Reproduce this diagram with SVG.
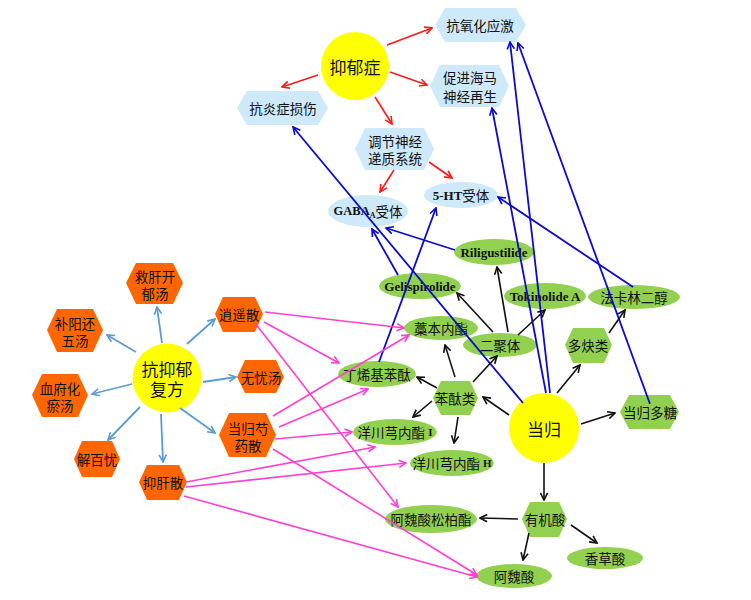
<svg xmlns="http://www.w3.org/2000/svg" width="751" height="600" viewBox="0 0 751 600">
<defs>
<style>
.cn{font-family:"Noto Sans CJK SC","Noto Sans",sans-serif;font-size:13.5px;fill:#111;text-anchor:middle;dominant-baseline:central}
.big{font-size:17px}
.en{font-family:"Liberation Serif","Times New Roman",serif;font-weight:bold;font-size:13px;fill:#111;text-anchor:middle;dominant-baseline:central}
.yc{fill:#FFFF00}
.lb{fill:#CDE9FA}
.gr{fill:#92D050}
.or{fill:#FF6600}
.red{stroke:#FF1A1A;stroke-width:1.6;fill:none;marker-end:url(#mRed)}
.blu{stroke:#0A0ACC;stroke-width:1.8;fill:none;marker-end:url(#mBlu)}
.pnk{stroke:#FF40D0;stroke-width:1.6;fill:none;marker-end:url(#mPnk)}
.stb{stroke:#5B9BD5;stroke-width:1.8;fill:none;marker-end:url(#mStb)}
.blk{stroke:#111;stroke-width:1.6;fill:none;marker-end:url(#mBlk)}
</style>
<marker id="mRed" viewBox="0 0 10 10" refX="9" refY="5" markerWidth="9" markerHeight="9" markerUnits="userSpaceOnUse" orient="auto"><path d="M1,1 L9,5 L1,9" fill="none" stroke="#FF1A1A" stroke-width="1.8"/></marker>
<marker id="mBlu" viewBox="0 0 10 10" refX="9" refY="5" markerWidth="9" markerHeight="9" markerUnits="userSpaceOnUse" orient="auto"><path d="M1,1 L9,5 L1,9" fill="none" stroke="#0A0ACC" stroke-width="1.8"/></marker>
<marker id="mPnk" viewBox="0 0 10 10" refX="9" refY="5" markerWidth="9" markerHeight="9" markerUnits="userSpaceOnUse" orient="auto"><path d="M1,1 L9,5 L1,9" fill="none" stroke="#FF40D0" stroke-width="1.8"/></marker>
<marker id="mStb" viewBox="0 0 10 10" refX="9" refY="5" markerWidth="9" markerHeight="9" markerUnits="userSpaceOnUse" orient="auto"><path d="M1,1 L9,5 L1,9" fill="none" stroke="#5B9BD5" stroke-width="1.8"/></marker>
<marker id="mBlk" viewBox="0 0 10 10" refX="9" refY="5" markerWidth="9" markerHeight="9" markerUnits="userSpaceOnUse" orient="auto"><path d="M1,1 L9,5 L1,9" fill="none" stroke="#111" stroke-width="1.8"/></marker>
</defs>
<rect width="751" height="600" fill="#fff"/>

<!-- top: depression -->
<g id="n-yiyuzheng"><circle class="yc" cx="355" cy="66" r="34"/><text class="cn big" x="355" y="66">抑郁症</text></g>
<g id="n-kangyanghua"><polygon class="lb" points="435,25 445,8 516,8 526,25 516,42 445,42"/><text class="cn" x="480" y="25">抗氧化应激</text></g>
<g id="n-cujin"><polygon class="lb" points="430,86 440,65 499,65 509,86 499,107 440,107"/><text class="cn" x="470" y="77">促进海马<tspan x="470" dy="19">神经再生</tspan></text></g>
<g id="n-kangyan"><polygon class="lb" points="237,108 247,91 318,91 328,108 318,125 247,125"/><text class="cn" x="283" y="108">抗炎症损伤</text></g>
<g id="n-tiaojie"><polygon class="lb" points="355,149 365,128 424,128 434,149 424,170 365,170"/><text class="cn" x="395" y="141">调节神经<tspan x="395" dy="17">递质系统</tspan></text></g>
<g id="n-gaba"><ellipse class="lb" cx="368" cy="211" rx="40" ry="16"/><text class="cn" x="368" y="211"><tspan class="en" style="font-size:12.5px">GABA</tspan><tspan class="en" style="font-size:8px" dy="4">A</tspan><tspan dy="-4">受体</tspan></text></g>
<g id="n-5ht"><ellipse class="lb" cx="461" cy="195" rx="37" ry="13"/><text class="cn" x="461" y="195"><tspan class="en">5-HT</tspan>受体</text></g>

<!-- left: formulas -->
<g id="n-fufang"><circle class="yc" cx="167" cy="378" r="34.5"/><text class="cn big" x="167" y="368">抗抑郁<tspan x="167" dy="20">复方</tspan></text></g>
<g id="n-jiugan"><polygon class="or" points="126,283 136,263 173,263 183,283 173,304 136,304"/><text class="cn" x="155" y="276">救肝开<tspan x="155" dy="17">郁汤</tspan></text></g>
<g id="n-buyang"><polygon class="or" points="47,330 57,309 93,309 103,330 93,352 57,352"/><text class="cn" x="75" y="323">补阳还<tspan x="75" dy="17">五汤</tspan></text></g>
<g id="n-xuefu"><polygon class="or" points="32,395 42,374 78,374 88,395 78,417 42,417"/><text class="cn" x="60" y="388">血府化<tspan x="60" dy="17">瘀汤</tspan></text></g>
<g id="n-jiebaiyou"><polygon class="or" points="74,459 82,441 112,441 120,459 112,477 82,477"/><text class="cn" x="97" y="459">解百忧</text></g>
<g id="n-yigansan"><polygon class="or" points="139,482 147,465 179,465 187,482 179,500 147,500"/><text class="cn" x="163" y="482">抑肝散</text></g>
<g id="n-danggui-shaoyao"><polygon class="or" points="219,435 229,413 266,413 276,435 266,457 229,457"/><text class="cn" x="248" y="428">当归芍<tspan x="248" dy="17">药散</tspan></text></g>
<g id="n-wuyou"><polygon class="or" points="237,377 245,360 276,360 284,377 276,393 245,393"/><text class="cn" x="261" y="377">无忧汤</text></g>
<g id="n-xiaoyao"><polygon class="or" points="215,314 223,297 255,297 263,314 255,332 223,332"/><text class="cn" x="239" y="314">逍遥散</text></g>

<!-- right: danggui -->
<g id="n-danggui"><circle class="yc" cx="544" cy="428" r="35"/><text class="cn big" x="544" y="428">当归</text></g>
<g id="n-riligustilide"><ellipse class="gr" cx="494" cy="252" rx="40" ry="13"/><text class="en" x="494" y="252">Riligustilide</text></g>
<g id="n-gelispirolide"><ellipse class="gr" cx="420" cy="286" rx="41" ry="13"/><text class="en" x="420" y="286">Gelispirolide</text></g>
<g id="n-tokinolide"><ellipse class="gr" cx="545" cy="296" rx="41" ry="13"/><text class="en" x="545" y="296">Tokinolide A</text></g>
<g id="n-falcarindiol"><ellipse class="gr" cx="634" cy="297" rx="46" ry="12"/><text class="cn" x="634" y="297">法卡林二醇</text></g>
<g id="n-gaoben"><ellipse class="gr" cx="441" cy="328" rx="37" ry="12"/><text class="cn" x="441" y="328">藁本内酯</text></g>
<g id="n-erjuti"><ellipse class="gr" cx="500" cy="345" rx="37" ry="12"/><text class="cn" x="500" y="345">二聚体</text></g>
<g id="n-duoquelei"><polygon class="gr" points="565,345 573,328 604,328 612,345 604,363 573,363"/><text class="cn" x="588" y="345">多炔类</text></g>
<g id="n-dingxi"><ellipse class="gr" cx="377" cy="374" rx="39" ry="13"/><text class="cn" x="377" y="374">丁烯基苯酞</text></g>
<g id="n-bentailei"><polygon class="gr" points="433,398 441,381 470,381 478,398 470,415 441,415"/><text class="cn" x="455" y="398">苯酞类</text></g>
<g id="n-dangguiduotang"><polygon class="gr" points="620,412 629,395 670,395 679,412 670,429 629,429"/><text class="cn" x="650" y="412">当归多糖</text></g>
<g id="n-yangchuanI"><ellipse class="gr" cx="395" cy="432" rx="42" ry="13"/><text class="cn" x="395" y="432">洋川芎内酯 <tspan class="en" style="font-size:11px">I</tspan></text></g>
<g id="n-yangchuanH"><ellipse class="gr" cx="452" cy="463" rx="42" ry="13"/><text class="cn" x="452" y="463">洋川芎内酯 <tspan class="en" style="font-size:11px">H</tspan></text></g>
<g id="n-youjisuan"><polygon class="gr" points="522,519 530,502 559,502 567,519 559,537 530,537"/><text class="cn" x="545" y="519">有机酸</text></g>
<g id="n-aweisuansongbai"><ellipse class="gr" cx="431" cy="519" rx="46" ry="14"/><text class="cn" x="431" y="519">阿魏酸松柏酯</text></g>
<g id="n-xiangcaosuan"><ellipse class="gr" cx="605" cy="558" rx="38" ry="11"/><text class="cn" x="605" y="558">香草酸</text></g>
<g id="n-aweisuan"><ellipse class="gr" cx="514" cy="576" rx="38" ry="12"/><text class="cn" x="514" y="576">阿魏酸</text></g>

<g id="connectors">
<!-- red -->
<line class="red" x1="387" y1="45" x2="432" y2="28"/>
<line class="red" x1="390" y1="72" x2="427" y2="85"/>
<line class="red" x1="318" y1="75" x2="282" y2="87"/>
<line class="red" x1="375" y1="97" x2="392" y2="124"/>
<line class="red" x1="394" y1="170" x2="380" y2="192"/>
<line class="red" x1="429" y1="162" x2="452" y2="178"/>
<!-- blue -->
<line class="blu" x1="523" y1="403" x2="293" y2="127"/>
<line class="blu" x1="398" y1="275" x2="372" y2="229"/>
<line class="blu" x1="455" y1="250" x2="386" y2="228"/>
<line class="blu" x1="379" y1="362" x2="436" y2="208"/>
<line class="blu" x1="633" y1="287" x2="498" y2="197"/>
<line class="blu" x1="546" y1="393" x2="492" y2="108"/>
<line class="blu" x1="550" y1="393" x2="510" y2="42"/>
<line class="blu" x1="650" y1="404" x2="518" y2="43"/>
<!-- steel blue -->
<line class="stb" x1="162" y1="343" x2="157" y2="307"/>
<line class="stb" x1="136" y1="352" x2="107" y2="335"/>
<line class="stb" x1="132" y1="384" x2="92" y2="394"/>
<line class="stb" x1="140" y1="407" x2="108" y2="440"/>
<line class="stb" x1="161" y1="414" x2="163" y2="462"/>
<line class="stb" x1="180" y1="408" x2="215" y2="433"/>
<line class="stb" x1="203" y1="382" x2="236" y2="377"/>
<line class="stb" x1="187" y1="344" x2="215" y2="319"/>
<!-- pink -->
<line class="pnk" x1="265" y1="312" x2="404" y2="328"/>
<line class="pnk" x1="264" y1="322" x2="339" y2="363"/>
<line class="pnk" x1="255" y1="323" x2="398" y2="507"/>
<line class="pnk" x1="273" y1="416" x2="409" y2="335"/>
<line class="pnk" x1="279" y1="427" x2="368" y2="389"/>
<line class="pnk" x1="275" y1="439" x2="352" y2="432"/>
<line class="pnk" x1="273" y1="449" x2="477" y2="575"/>
<line class="pnk" x1="186" y1="482" x2="375" y2="447"/>
<line class="pnk" x1="186" y1="487" x2="406" y2="463"/>
<line class="pnk" x1="184" y1="496" x2="477" y2="577"/>
<!-- black -->
<line class="blk" x1="493" y1="332" x2="457" y2="293"/>
<line class="blk" x1="508" y1="332" x2="497" y2="267"/>
<line class="blk" x1="518" y1="335" x2="545" y2="310"/>
<line class="blk" x1="609" y1="333" x2="625" y2="310"/>
<line class="blk" x1="557" y1="393" x2="580" y2="365"/>
<line class="blk" x1="509" y1="415" x2="483" y2="397"/>
<line class="blk" x1="455" y1="377" x2="445" y2="345"/>
<line class="blk" x1="473" y1="382" x2="497" y2="356"/>
<line class="blk" x1="437" y1="388" x2="417" y2="377"/>
<line class="blk" x1="432" y1="401" x2="413" y2="417"/>
<line class="blk" x1="458" y1="417" x2="454" y2="443"/>
<line class="blk" x1="581" y1="424" x2="615" y2="413"/>
<line class="blk" x1="544" y1="463" x2="544" y2="500"/>
<line class="blk" x1="518" y1="519" x2="480" y2="518"/>
<line class="blk" x1="529" y1="533" x2="523" y2="560"/>
<line class="blk" x1="571" y1="525" x2="597" y2="543"/>
</g>
</svg>
